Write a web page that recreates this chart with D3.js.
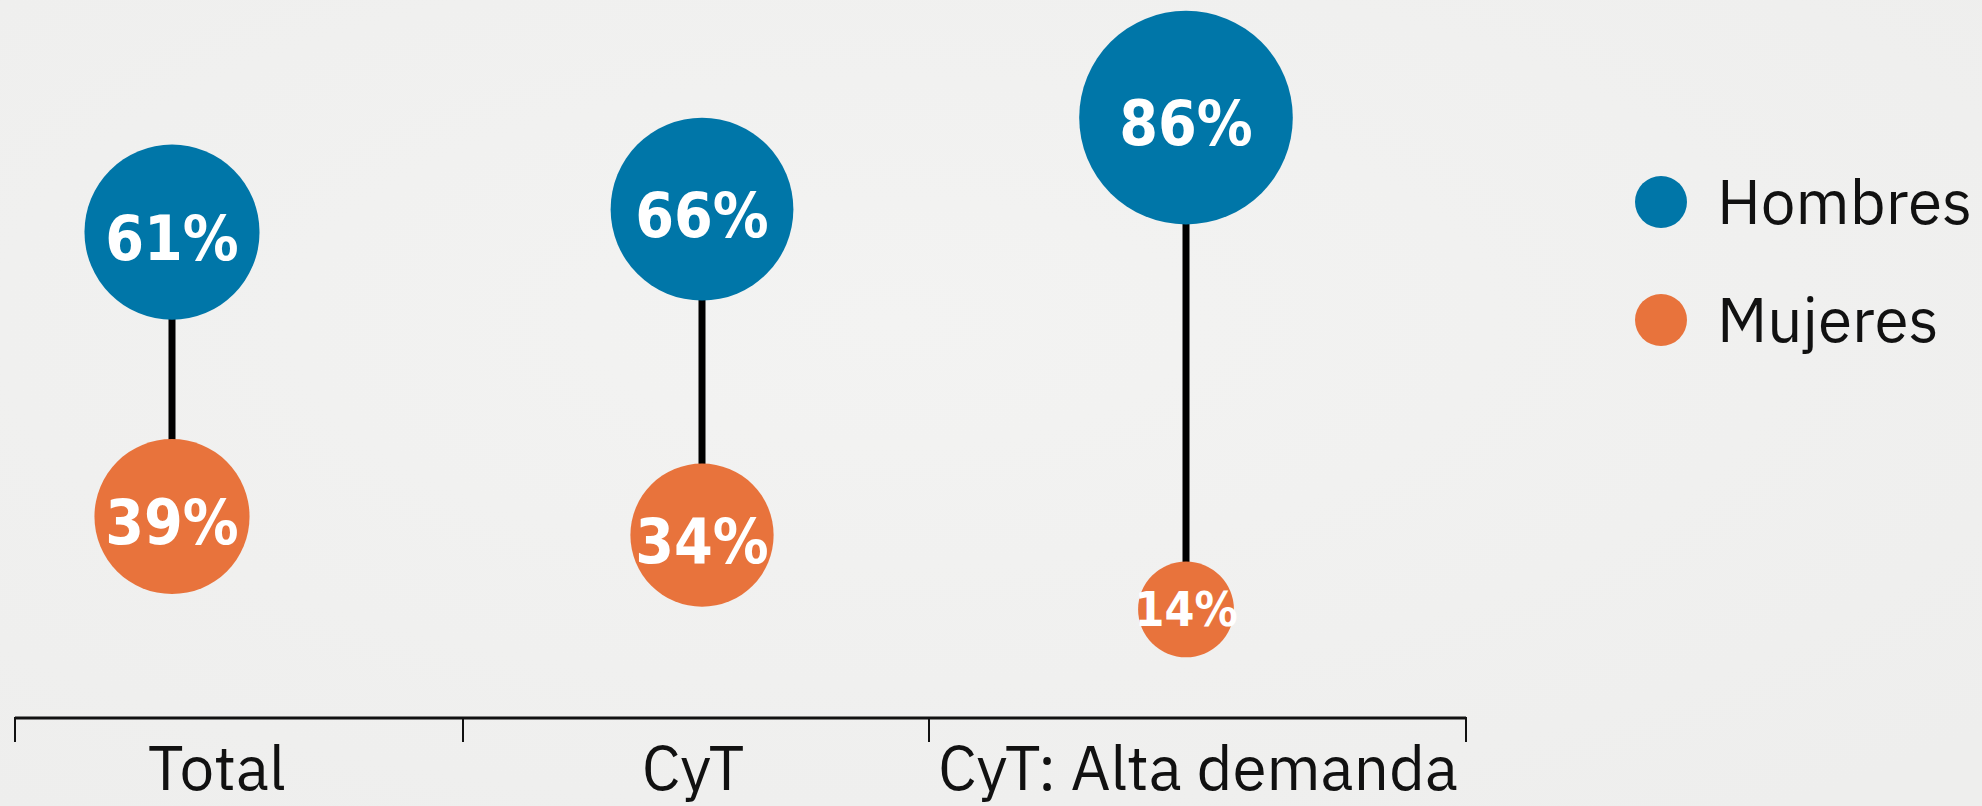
<!DOCTYPE html>
<html>
<head>
<meta charset="utf-8">
<script src="https://cdn.jsdelivr.net/npm/d3@7"></script>
<style>
  html, body {
    margin: 0;
    padding: 0;
    background: #f0f0ef;
    overflow: hidden;
  }
  .axis-label, .legend-label {
    font-family: "IBM Plex Sans", "Noto Sans", sans-serif;
    font-size: 62px;
    fill: #111;
  }
  .pct {
    font-family: "DejaVu Sans Condensed", "DejaVu Sans", sans-serif;
    font-stretch: condensed;
    font-weight: 700;
    fill: #fff;
  }
</style>
</head>
<body>
<div id="vis"><svg></svg></div>
<script>
// chart data
const categories = ["Total", "CyT", "CyT: Alta demanda"]
const hombres = [61, 66, 86]
const mujeres = [39, 34, 14]
const seriesNames = ["Hombres", "Mujeres"]
const seriesColors = ["#0076a8", "#e8733c"]

const w = 1982
const h = 806

const svg = d3.select("#vis").select("svg")
  .attr("width", w)
  .attr("height", h)

// subtle paper-like background
const defs = svg.append("defs")
const bg = defs.append("radialGradient")
  .attr("id", "bg")
  .attr("cx", "45%").attr("cy", "40%").attr("r", "75%")
bg.append("stop").attr("offset", "0%").attr("stop-color", "#f3f3f2")
bg.append("stop").attr("offset", "100%").attr("stop-color", "#eeeeed")
svg.append("rect")
  .attr("width", w).attr("height", h)
  .attr("fill", "url(#bg)")

// x: category index -> dot position, label position, and band edges for the axis
const xDot = d3.scaleLinear().domain([0, 1, 2]).range([172, 702, 1186])
const xLabel = d3.scaleLinear().domain([0, 1, 2]).range([217, 693, 1198])
const xEdge = d3.scaleLinear().domain([0, 1, 2, 3]).range([15, 463, 929, 1466])

// y and size: one scale per series (the two groups sit in separate halves)
const yH = d3.scaleLinear().domain([50, 100]).range([282.5, 53.5])
const yM = d3.scaleLinear().domain([0, 50]).range([661.4, 475.7])
const rH = d3.scaleLinear().domain([0, 100]).range([40.5, 117.6])
const rM = d3.scaleLinear().domain([0, 50]).range([31.3, 90.6])

const rows = categories.map((c, i) => ({
  cat: c, i: i, h: hombres[i], m: mujeres[i]
}))

const plot = svg.append("g").attr("class", "plot")

// connectors
plot.selectAll(".stem")
  .data(rows)
  .enter().append("line")
    .attr("class", "stem")
    .attr("x1", d => xDot(d.i))
    .attr("x2", d => xDot(d.i))
    .attr("y1", d => yH(d.h))
    .attr("y2", d => yM(d.m))
    .attr("stroke", "#000")
    .attr("stroke-width", 7)

const points = []
rows.forEach(d => {
  points.push({i: d.i, v: d.h, y: yH(d.h), r: rH(d.h), s: 0})
  points.push({i: d.i, v: d.m, y: yM(d.m), r: rM(d.m), s: 1})
})

plot.selectAll(".dot")
  .data(points)
  .enter().append("circle")
    .attr("class", "dot")
    .attr("cx", d => xDot(d.i))
    .attr("cy", d => d.y)
    .attr("r", d => d.r)
    .attr("fill", d => seriesColors[d.s])

const pctSize = d => Math.min(62, d.r * 1.0)

plot.selectAll(".pct")
  .data(points)
  .enter().append("text")
    .attr("class", "pct")
    .attr("text-anchor", "middle")
    .attr("x", d => xDot(d.i))
    .attr("font-size", pctSize)
    .attr("y", d => d.y + pctSize(d) * 0.365 + (pctSize(d) < 62 ? -1 : 5))
    .text(d => d.v + "%")

// axis
const axis = svg.append("g").attr("class", "axis")
axis.append("line")
  .attr("x1", xEdge(0)).attr("x2", xEdge(3))
  .attr("y1", 718).attr("y2", 718)
  .attr("stroke", "#111").attr("stroke-width", 3)
axis.selectAll(".tick")
  .data(d3.range(categories.length + 1))
  .enter().append("line")
    .attr("class", "tick")
    .attr("x1", d => xEdge(d)).attr("x2", d => xEdge(d))
    .attr("y1", 717).attr("y2", 742)
    .attr("stroke", "#111").attr("stroke-width", 2)
axis.selectAll(".axis-label")
  .data(categories)
  .enter().append("text")
    .attr("class", "axis-label")
    .attr("text-anchor", "middle")
    .attr("x", (d, i) => xLabel(i))
    .attr("y", 790)
    .text(d => d)

// legend
const legend = svg.append("g").attr("class", "legend")
  .attr("transform", "translate(1661, 202)")
const item = legend.selectAll(".item")
  .data(seriesNames)
  .enter().append("g")
    .attr("class", "item")
    .attr("transform", (d, i) => `translate(0, ${i * 118})`)
item.append("circle")
  .attr("r", 26)
  .attr("fill", (d, i) => seriesColors[i])
item.append("text")
  .attr("class", "legend-label")
  .attr("x", 56)
  .attr("y", 22)
  .text(d => d)
</script>
</body>
</html>
